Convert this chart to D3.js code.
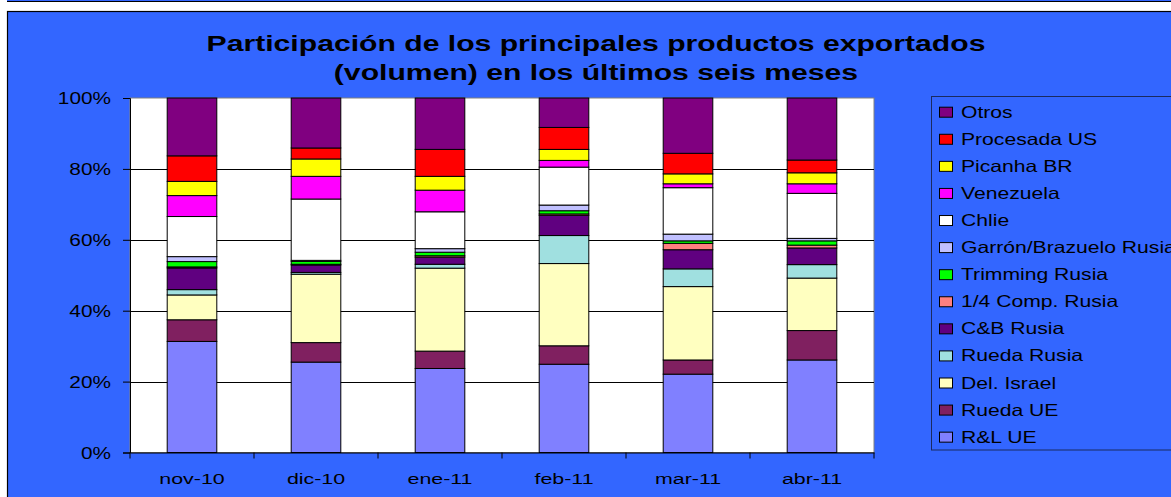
<!DOCTYPE html>
<meta charset="utf-8">
<script src="https://d3js.org/d3.v7.min.js"></script>
<style>
  body { margin: 0; background: #fff; }
  text { font-family: "Liberation Sans", Arial, sans-serif; fill: #000; }
</style>
<div id="my_dataviz"></div>
<script>

// Data (percent of volume)
var months = ["nov-10", "dic-10", "ene-11", "feb-11", "mar-11", "abr-11"];

var rlUE        = [31.3, 25.5, 23.7, 24.9, 22.1, 26.1];
var ruedaUE     = [ 6.1,  5.5,  4.9,  5.2,  4.0,  8.3];
var delIsrael   = [ 7.0, 19.3, 23.4, 23.2, 20.7, 14.8];
var ruedaRusia  = [ 1.5,  0.5,  1.1,  7.9,  5.0,  3.8];
var cbRusia     = [ 6.1,  2.1,  2.0,  5.7,  5.4,  4.7];
var compRusia   = [ 0.3,  0.2,  0.4,  0.4,  1.8,  0.8];
var trimming    = [ 1.5,  0.8,  1.0,  0.9,  0.7,  1.2];
var garron      = [ 1.4,  0.3,  1.0,  1.6,  1.9,  0.7];
var chile       = [11.3, 17.3, 10.4, 10.7, 13.1, 12.7];
var venezuela   = [ 5.9,  6.4,  6.1,  1.9,  1.1,  2.7];
var picanha     = [ 4.0,  4.9,  3.9,  3.1,  2.8,  3.1];
var procesadaUS = [ 7.2,  3.1,  7.6,  6.2,  5.8,  3.6];
var otros       = [16.3, 14.1, 14.5,  8.3, 15.6, 17.5];

// series, bottom of the stack first
var seriesNames = ["R&L UE", "Rueda UE", "Del. Israel", "Rueda Rusia", "C&B Rusia",
  "1/4 Comp. Rusia", "Trimming Rusia", "Garrón/Brazuelo Rusia", "Chlie",
  "Venezuela", "Picanha BR", "Procesada US", "Otros"];
var seriesValues = [rlUE, ruedaUE, delIsrael, ruedaRusia, cbRusia, compRusia,
  trimming, garron, chile, venezuela, picanha, procesadaUS, otros];
var seriesColors = ["#8080FF", "#802060", "#FFFFC0", "#A0E0E0", "#600080",
  "#FF8080", "#00FF00", "#C0C0FF", "#FFFFFF", "#FF00FF", "#FFFF00", "#FF0000", "#800080"];

var yTicks = [0, 0.2, 0.4, 0.6, 0.8, 1];

// rows for d3.stack
var rows = months.map(function(m, i) {
  var r = { month: m };
  seriesNames.forEach(function(s, j) { r[s] = seriesValues[j][i]; });
  return r;
});

var W = 1171, H = 497;
var svg = d3.select("#my_dataviz").append("svg")
    .attr("width", W)
    .attr("height", H);

// text in the picture is stretched sideways
function stretch(sel, k) {
  sel.each(function() {
    var len = this.getComputedTextLength();
    d3.select(this).attr("textLength", len * k).attr("lengthAdjust", "spacingAndGlyphs");
  });
}

// Frame / background
svg.append("rect").attr("x", 7).attr("y", 0).attr("width", W - 7).attr("height", 2).style("fill", "#3366FF");
svg.append("line").attr("x1", 7).attr("x2", W).attr("y1", 1.5).attr("y2", 1.5).style("stroke", "#000");
svg.append("rect").attr("x", 7.5).attr("y", 11.5).attr("width", W).attr("height", H)
    .style("fill", "#3366FF").style("stroke", "#000").style("stroke-width", 1.2);

// Plot area
var plot = { left: 130, right: 874, top: 98, bottom: 452.5 };

var x = d3.scaleBand()
    .domain(months)
    .range([plot.left, plot.right])
    .paddingInner(0.6)
    .paddingOuter(0.3);

var y = d3.scaleLinear()
    .domain([0, 1])
    .range([plot.bottom, plot.top]);

svg.append("rect")
    .attr("x", plot.left).attr("y", plot.top)
    .attr("width", plot.right - plot.left).attr("height", plot.bottom - plot.top)
    .style("fill", "#fff").style("stroke", "#808080");

// gridlines
svg.append("g").selectAll("line")
  .data(yTicks.slice(1, -1))
  .enter().append("line")
    .attr("x1", plot.left).attr("x2", plot.right)
    .attr("y1", function(d) { return Math.round(y(d)) + 0.5; })
    .attr("y2", function(d) { return Math.round(y(d)) + 0.5; })
    .style("stroke", "#000");

// Bars
var stacked = d3.stack().keys(seriesNames).offset(d3.stackOffsetExpand)(rows);

svg.append("g").selectAll("g")
  .data(stacked)
  .enter().append("g")
    .style("fill", function(d, i) { return seriesColors[i]; })
  .selectAll("rect")
  .data(function(d) { return d; })
  .enter().append("rect")
    .attr("x", function(d) { return x(d.data.month); })
    .attr("width", x.bandwidth())
    .attr("y", function(d) { return y(d[1]); })
    .attr("height", function(d) { return y(d[0]) - y(d[1]); })
    .style("stroke", "#000")
    .style("stroke-width", 1);

// Axes
var yAxis = svg.append("g")
    .attr("transform", "translate(" + plot.left + ",0)")
    .call(d3.axisLeft(y).tickValues(yTicks).tickFormat(d3.format(".0%")).tickSize(7).tickPadding(12));
yAxis.select(".domain").style("stroke", "#000");
yAxis.selectAll("text").style("font-size", "16px").attr("dy", "0.36em");
stretch(yAxis.selectAll("text"), 1.3);

var xAxis = svg.append("g")
    .attr("transform", "translate(0," + plot.bottom + ")")
    .call(d3.axisBottom(x).tickSize(0).tickPadding(20));
xAxis.select(".domain").style("stroke", "#000");
xAxis.selectAll("text").style("font-size", "15.5px");
stretch(xAxis.selectAll("text"), 1.38);

// x tick marks between the categories
var bounds = months.map(function(m) { return x(m) - x.step() * x.paddingInner() / 2 - x.bandwidth() / 2 + x.bandwidth() / 2; });
svg.append("g").selectAll("line")
  .data(months.concat(["end"]))
  .enter().append("line")
    .attr("x1", function(d, i) { return plot.left + i * (plot.right - plot.left) / months.length; })
    .attr("x2", function(d, i) { return plot.left + i * (plot.right - plot.left) / months.length; })
    .attr("y1", plot.bottom).attr("y2", plot.bottom + 6)
    .style("stroke", "#000");

// Title
var title = svg.append("text")
    .attr("text-anchor", "middle")
    .style("font-size", "22px")
    .style("font-weight", "bold");
title.append("tspan").attr("x", 596).attr("y", 51).text("Participación de los principales productos exportados");
title.append("tspan").attr("x", 596).attr("y", 79.5).text("(volumen) en los últimos seis meses");
stretch(title.selectAll("tspan"), 1.37);

// Legend (top entry = top of the stack)
var legend = svg.append("g");
legend.append("rect")
    .attr("x", 931.5).attr("y", 96.5).attr("width", 260).attr("height", 353.5)
    .style("fill", "#3366FF").style("stroke", "#1a2a60");

var legendItems = seriesNames.slice().reverse();
var legendColors = seriesColors.slice().reverse();
var items = legend.selectAll(".item")
  .data(legendItems)
  .enter().append("g")
    .attr("class", "item")
    .attr("transform", function(d, i) { return "translate(939," + (111.7 + i * 27.08) + ")"; });

items.append("rect")
    .attr("x", 0.5).attr("y", -4.5).attr("width", 13).attr("height", 10)
    .style("fill", function(d, i) { return legendColors[i]; })
    .style("stroke", "#000");

var legendText = items.append("text")
    .attr("x", 22)
    .attr("y", 6)
    .style("font-size", "16.5px")
    .text(function(d) { return d; });
stretch(legendText, 1.28);

</script>
